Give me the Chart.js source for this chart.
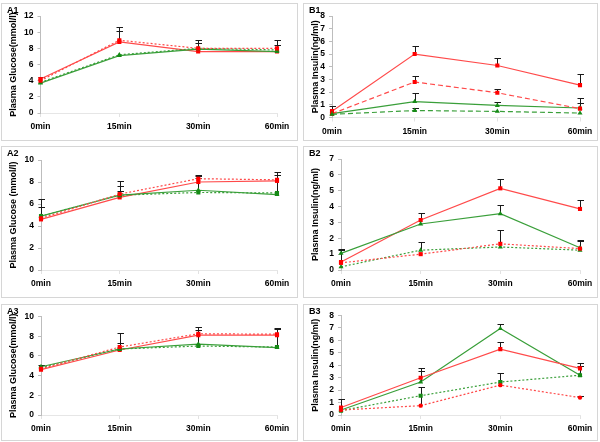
<!DOCTYPE html>
<html>
<head>
<meta charset="utf-8">
<script src="https://cdn.jsdelivr.net/npm/chart.js@4.4.1/dist/chart.umd.min.js"></script>
<style>
html,body{margin:0;padding:0;background:#fff;}
body{width:600px;height:442px;position:relative;overflow:hidden;font-family:"Liberation Sans",Arial,sans-serif;}
.box{position:absolute;border:1px solid #d6d6d6;box-sizing:border-box;}
canvas{position:absolute;}
.lbl{position:absolute;font-weight:bold;font-size:9px;line-height:10px;color:#000;}
</style>
</head>
<body>
<script>
// ---------- DATA ----------
const timePoints = ['0min', '15min', '30min', '60min'];

// A1 glucose (mmol/l)
const a1RedSolid     = [4.2, 8.8, 7.6, 7.6];
const a1RedSolidSD   = [0.2, 1.8, null, 0.8];
const a1RedDotted    = [4.0, 9.0, 8.0, 8.0];
const a1RedDottedSD  = [null, 1.2, 0.6, 1.0];
const a1GreenSolid   = [3.7, 7.1, 7.9, 7.6];
const a1GreenSolidSD = [null, null, 1.1, null];
const a1GreenDotted  = [3.8, 7.2, 8.0, 7.8];
const a1GreenDottedSD= [null, null, null, null];

// B1 insulin (ng/ml)
const b1RedSolid     = [0.5, 5.0, 4.1, 2.55];
const b1RedSolidSD   = [0.4, 0.6, 0.6, 0.85];
const b1RedDashed    = [0.3, 2.8, 1.95, 0.7];
const b1RedDashedSD  = [null, 0.5, 0.3, 0.85];
const b1GreenSolid   = [0.3, 1.25, 0.95, 0.75];
const b1GreenSolidSD = [null, 0.65, 0.27, 0.4];
const b1GreenDashed  = [0.25, 0.55, 0.48, 0.35];
const b1GreenDashedSD= [null, 0.2, null, null];

// A2 glucose (mmol/l)
const a2RedSolid     = [4.6, 6.6, 8.0, 8.1];
const a2RedSolidSD   = [1.1, 0.6, 0.4, 0.5];
const a2RedDotted    = [4.7, 6.9, 8.3, 8.2];
const a2RedDottedSD  = [null, 1.2, 0.3, null];
const a2GreenSolid   = [4.9, 6.8, 7.25, 6.85];
const a2GreenSolidSD = [1.6, 0.8, null, 2.05];
const a2GreenDotted  = [4.9, 6.8, 7.05, 7.0];
const a2GreenDottedSD= [null, null, 1.5, null];

// B2 insulin (ng/ml)
const b2RedSolid     = [0.5, 3.15, 5.15, 3.85];
const b2RedSolidSD   = [0.75, 0.45, 0.6, 0.55];
const b2GreenSolid   = [1.05, 2.9, 3.55, 1.4];
const b2GreenSolidSD = [0.25, null, 0.55, 0.5];
const b2RedDotted    = [0.45, 1.0, 1.65, 1.35];
const b2RedDottedSD  = [null, null, 0.85, null];
const b2GreenDotted  = [0.2, 1.25, 1.45, 1.25];
const b2GreenDottedSD= [null, 0.5, null, 0.55];

// A3 glucose (mmol/l)
const a3RedSolid     = [4.6, 6.6, 8.1, 8.1];
const a3RedSolidSD   = [null, null, 0.5, 0.6];
const a3RedDotted    = [4.7, 6.9, 8.25, 8.2];
const a3RedDottedSD  = [null, 0.4, null, null];
const a3GreenSolid   = [4.9, 6.7, 7.2, 6.85];
const a3GreenSolidSD = [0.2, 1.6, null, 2.0];
const a3GreenDotted  = [4.8, 6.7, 7.0, 6.9];
const a3GreenDottedSD= [null, null, 1.9, null];

// B3 insulin (ng/ml)
const b3RedSolid     = [0.6, 3.0, 5.3, 3.75];
const b3RedSolidSD   = [0.65, 0.8, 0.6, 0.45];
const b3GreenSolid   = [0.4, 2.65, 6.95, 3.2];
const b3GreenSolidSD = [null, 0.85, 0.35, 0.75];
const b3GreenDotted  = [0.35, 1.55, 2.65, 3.2];
const b3GreenDottedSD= [null, null, 0.7, null];
const b3RedDotted    = [0.4, 0.75, 2.4, 1.4];
const b3RedDottedSD  = [null, 1.5, null, 0.15];

// ---------- STYLE / LAYOUT ----------
const RED_LINE = '#ff4a4a', RED_PT = '#ff0000';
const GREEN_LINE = '#3a9f3a', GREEN_PT = '#168a16';
const FONT = '"Liberation Sans", Arial, sans-serif';

function series(data, sd, color, dash, pointStyle) {
  const isRed = color === 'red';
  return {
    data: data, errors: sd,
    borderColor: isRed ? RED_LINE : GREEN_LINE,
    backgroundColor: isRed ? RED_PT : GREEN_PT,
    pointBackgroundColor: isRed ? RED_PT : GREEN_PT,
    pointBorderColor: isRed ? RED_PT : GREEN_PT,
    borderWidth: 1.2, borderDash: dash, pointStyle: pointStyle,
    pointRadius: pointStyle === 'circle' ? 2.2 : 2.9, pointBorderWidth: 0, tension: 0, fill: false
  };
}
const DOT = [2, 2], DASH = [5, 3], SOLID = [];

const panels = [
  { id: 'A1', box: [1, 3, 297, 138], plot: [40.5, 277, 16, 113], yMax: 12, step: 2, title: 'Plasma Glucose(mmol/l)',
    ds: [series(a1RedDotted, a1RedDottedSD, 'red', DOT, 'rect'), series(a1GreenDotted, a1GreenDottedSD, 'green', DOT, 'triangle'),
         series(a1GreenSolid, a1GreenSolidSD, 'green', SOLID, 'triangle'), series(a1RedSolid, a1RedSolidSD, 'red', SOLID, 'rect')] },
  { id: 'B1', box: [303, 3, 295, 138], plot: [332, 580, 16, 117.5], yMax: 8, step: 1, title: 'Plasma Insulin(ng/ml)',
    ds: [series(b1GreenDashed, b1GreenDashedSD, 'green', DASH, 'triangle'), series(b1RedDashed, b1RedDashedSD, 'red', DASH, 'rect'),
         series(b1GreenSolid, b1GreenSolidSD, 'green', SOLID, 'triangle'), series(b1RedSolid, b1RedSolidSD, 'red', SOLID, 'rect')] },
  { id: 'A2', box: [1, 146, 297, 152], plot: [41, 277, 160, 270], yMax: 10, step: 2, title: 'Plasma Glucose (mmol/l)',
    ds: [series(a2RedDotted, a2RedDottedSD, 'red', DOT, 'rect'), series(a2GreenDotted, a2GreenDottedSD, 'green', DOT, 'rect'),
         series(a2GreenSolid, a2GreenSolidSD, 'green', SOLID, 'triangle'), series(a2RedSolid, a2RedSolidSD, 'red', SOLID, 'rect')] },
  { id: 'B2', box: [303, 146, 295, 152], plot: [341, 580, 159, 270], yMax: 7, step: 1, title: 'Plasma Insulin(ng/ml)',
    ds: [series(b2RedDotted, b2RedDottedSD, 'red', DOT, 'rect'), series(b2GreenDotted, b2GreenDottedSD, 'green', DOT, 'triangle'),
         series(b2GreenSolid, b2GreenSolidSD, 'green', SOLID, 'triangle'), series(b2RedSolid, b2RedSolidSD, 'red', SOLID, 'rect')] },
  { id: 'A3', box: [1, 304, 297, 137], plot: [41, 277, 316.5, 415], yMax: 10, step: 2, title: 'Plasma Glucose(mmol/l)',
    ds: [series(a3RedDotted, a3RedDottedSD, 'red', DOT, 'rect'), series(a3GreenDotted, a3GreenDottedSD, 'green', DOT, 'rect'),
         series(a3GreenSolid, a3GreenSolidSD, 'green', SOLID, 'triangle'), series(a3RedSolid, a3RedSolidSD, 'red', SOLID, 'rect')] },
  { id: 'B3', box: [303, 304, 295, 137], plot: [341, 580, 315.5, 415], yMax: 8, step: 1, title: 'Plasma Insulin(ng/ml)',
    ds: [series(b3RedDotted, b3RedDottedSD, 'red', DOT, 'circle'), series(b3GreenDotted, b3GreenDottedSD, 'green', DOT, 'rect'),
         series(b3RedSolid, b3RedSolidSD, 'red', SOLID, 'rect'), series(b3GreenSolid, b3GreenSolidSD, 'green', SOLID, 'triangle')] }
];

const errorBars = {
  id: 'errorBars',
  beforeDatasetsDraw(chart) {
    const ctx = chart.ctx, ys = chart.scales.y;
    chart.data.datasets.forEach((ds, i) => {
      if (!ds.errors) return;
      const meta = chart.getDatasetMeta(i);
      meta.data.forEach((pt, j) => {
        const e = ds.errors[j];
        if (e == null) return;
        const x = Math.round(pt.x) + 0.5;
        const y0 = pt.y, y1 = Math.round(ys.getPixelForValue(ds.data[j] + e)) + 0.5;
        ctx.save();
        ctx.strokeStyle = '#1a1a1a'; ctx.lineWidth = 1;
        ctx.beginPath();
        ctx.moveTo(x, y0); ctx.lineTo(x, y1);
        ctx.moveTo(x - 3, y1); ctx.lineTo(x + 3.5, y1);
        ctx.stroke();
        ctx.restore();
      });
    });
  }
};

panels.forEach(p => {
  const [bx, by, bw, bh] = p.box;
  const [pl, pr, pt, pb] = p.plot;
  const box = document.createElement('div');
  box.className = 'box';
  Object.assign(box.style, { left: bx + 'px', top: by + 'px', width: bw + 'px', height: bh + 'px' });
  document.body.appendChild(box);

  const cv = document.createElement('canvas');
  cv.width = bw; cv.height = bh;
  Object.assign(cv.style, { left: bx + 'px', top: by + 'px', width: bw + 'px', height: bh + 'px' });
  document.body.appendChild(cv);

  const lbl = document.createElement('div');
  lbl.className = 'lbl';
  lbl.textContent = p.id;
  Object.assign(lbl.style, { left: (bx + 6) + 'px', top: (by + 2) + 'px' });
  document.body.appendChild(lbl);

  new Chart(cv, {
    type: 'line',
    data: { labels: timePoints, datasets: p.ds },
    options: {
      responsive: false, animation: false, devicePixelRatio: 1,
      layout: { padding: { left: 0, top: pt - by, right: bx + bw - pr, bottom: 0 } },
      plugins: { legend: { display: false }, tooltip: { enabled: false }, title: { display: false } },
      scales: {
        x: {
          type: 'category', offset: false,
          grid: { drawOnChartArea: false, drawTicks: true, tickLength: 4, color: '#e2e2e2' },
          border: { display: true, color: '#e6e6e6' },
          ticks: { color: '#000', font: { family: FONT, size: 8.5, weight: 'bold' }, padding: 5, maxRotation: 0, autoSkip: false },
          afterFit(s) { s.height = by + bh - pb; }
        },
        y: {
          min: 0, max: p.yMax,
          grid: { drawOnChartArea: false, drawTicks: true, tickLength: 3, color: '#bdbdbd' },
          border: { display: true, color: '#bdbdbd' },
          ticks: { stepSize: p.step, autoSkip: false, color: '#000', font: { family: FONT, size: 8.5, weight: 'bold' }, padding: 4 },
          title: { display: true, text: p.title, color: '#000', font: { family: FONT, size: 9, weight: 'bold' }, padding: { top: 7.5, bottom: 0 } },
          afterFit(s) { s.width = pl - bx; }
        }
      }
    },
    plugins: [errorBars]
  });
});
</script>
</body>
</html>
